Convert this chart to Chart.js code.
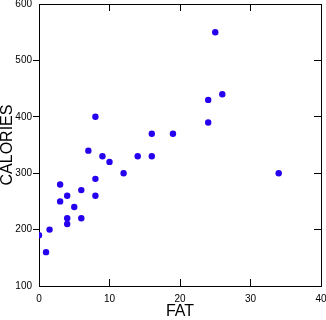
<!DOCTYPE html>
<html>
<head>
<meta charset="utf-8">
<script src="https://cdn.jsdelivr.net/npm/chart.js@4/dist/chart.umd.min.js"></script>
<style>
  html, body { margin: 0; padding: 0; background: #fff; }
  #wrap { width: 326px; height: 320px; position: relative; }
</style>
</head>
<body>
<div id="wrap"><canvas id="c" width="326" height="320"></canvas></div>
<script>
const fat      = [0,   1,   1.5, 3,   3,   4,   4,   4,   5,   6,   6,   7,   8,   8,   8,   9,   10,  12,  14,  16,  16,  19,  24,  24,  25,  26,  34];
const calories = [190, 160, 200, 280, 250, 260, 220, 210, 240, 270, 220, 340, 400, 290, 260, 330, 320, 300, 330, 370, 330, 370, 430, 390, 550, 440, 300];
const xTicks = [0, 10, 20, 30, 40];
const yTicks = [100, 200, 300, 400, 500, 600];
const xTitle = 'FAT';
const yTitle = 'CALORIES';

const points = fat.map((f, i) => ({ x: f, y: calories[i] }));
const font10 = { family: 'Liberation Sans, Arial, sans-serif', size: 10 };
const font16 = { family: 'Liberation Sans, Arial, sans-serif', size: 16, lineHeight: 1 };

function tickColor(lo, hi) {
  return function (c) {
    const v = c && c.tick ? c.tick.value : null;
    return (v === lo || v === hi) ? 'rgba(0,0,0,0)' : '#000000';
  };
}

new Chart(document.getElementById('c'), {
  type: 'scatter',
  data: {
    datasets: [{
      data: points,
      pointStyle: 'circle',
      pointRadius: 3.2,
      pointHoverRadius: 3.2,
      backgroundColor: '#2400EE',
      borderColor: '#2400EE',
      borderWidth: 0
    }]
  },
  options: {
    responsive: false, animation: false, devicePixelRatio: 1,
    layout: { padding: { top: 4, right: 5 } },
    plugins: { legend: { display: false }, tooltip: { enabled: false } },
    scales: {
      x: {
        type: 'linear', position: 'bottom', min: 0, max: 40,
        afterBuildTicks(s) { s.ticks = xTicks.map(v => ({ value: v })); },
        afterFit(s) { s.height = 34; s.paddingLeft = 0; s.paddingRight = 0; },
        grid: { drawOnChartArea: false, drawTicks: true, tickLength: -7, color: tickColor(0, 40), lineWidth: 1 },
        border: { display: true, color: '#000', width: 1 },
        ticks: { color: '#000', padding: 14, maxRotation: 0, font: font10 },
        title: { display: true, text: xTitle, color: '#000', padding: 0, font: font16 }
      },
      x2: {
        type: 'linear', position: 'top', min: 0, max: 40,
        afterBuildTicks(s) { s.ticks = xTicks.map(v => ({ value: v })); },
        afterFit(s) { s.height = 0; },
        grid: { drawOnChartArea: false, drawTicks: true, tickLength: -7, color: tickColor(0, 40), lineWidth: 1 },
        border: { display: true, color: '#000', width: 1 },
        ticks: { display: false }
      },
      y: {
        type: 'linear', position: 'left', min: 100, max: 600,
        afterBuildTicks(s) { s.ticks = yTicks.map(v => ({ value: v })); },
        afterFit(s) { s.width = 39; s.paddingTop = 0; s.paddingBottom = 0; },
        grid: { drawOnChartArea: false, drawTicks: true, tickLength: 6, color: tickColor(100, 600), lineWidth: 1 },
        border: { display: true, color: '#000', width: 1 },
        ticks: { color: '#000', padding: 1, font: font10 },
        title: { display: true, text: yTitle, color: '#000', padding: 0, font: font16 }
      },
      y2: {
        type: 'linear', position: 'right', min: 100, max: 600,
        afterBuildTicks(s) { s.ticks = yTicks.map(v => ({ value: v })); },
        afterFit(s) { s.width = 0; },
        grid: { drawOnChartArea: false, drawTicks: true, tickLength: -7, color: tickColor(100, 600), lineWidth: 1 },
        border: { display: true, color: '#000', width: 1 },
        ticks: { display: false }
      }
    }
  }
});
</script>
</body>
</html>
